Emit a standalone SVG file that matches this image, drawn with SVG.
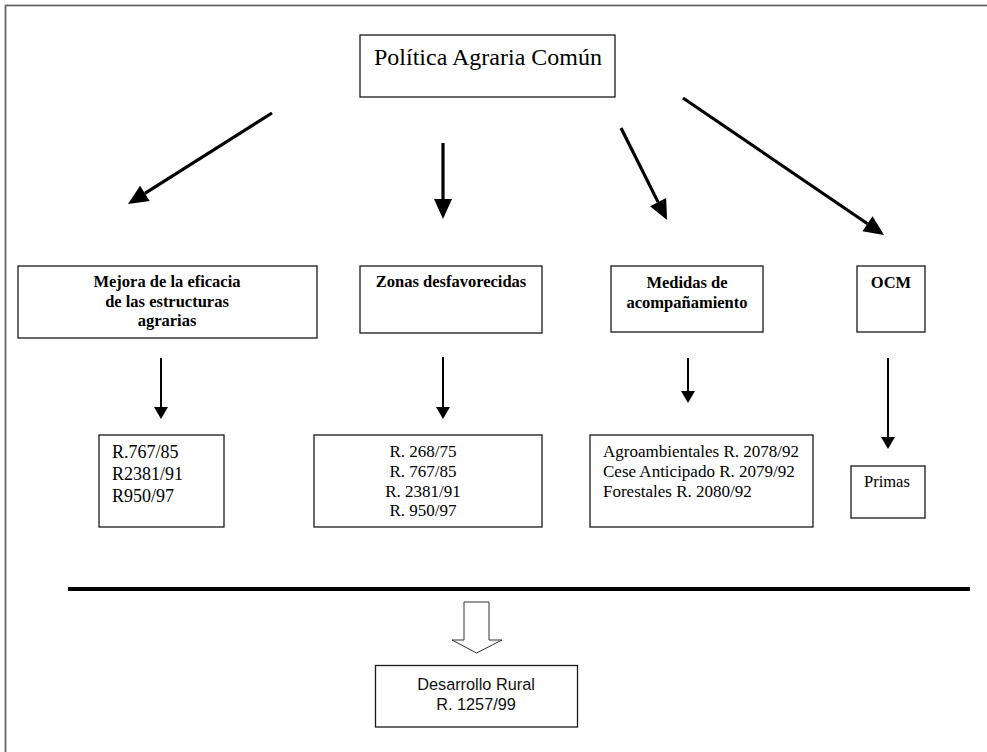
<svg xmlns="http://www.w3.org/2000/svg" width="987" height="752" viewBox="0 0 987 752">
<style>
.box{fill:#fff;stroke:#1a1a1a;stroke-width:1.3}
.serif{font-family:"Liberation Serif","Times New Roman",serif;fill:#000}
.b{font-weight:bold;font-size:16.5px}
.thick{stroke:#000;stroke-width:3.2;fill:none}
.thin{stroke:#000;stroke-width:2;fill:none}
.sans{font-family:"Liberation Sans",Arial,sans-serif;font-size:16.3px;fill:#111}
</style>
<defs>
<marker id="big" markerUnits="userSpaceOnUse" viewBox="0 -10 21 20" refX="0" refY="0" markerWidth="21" markerHeight="20" orient="auto" overflow="visible">
<path d="M0,-9 L20,0 L0,9 z" fill="#000"/>
</marker>
<marker id="small" markerUnits="userSpaceOnUse" viewBox="0 -8 13 16" refX="0" refY="0" markerWidth="13" markerHeight="16" orient="auto" overflow="visible">
<path d="M0,-7 L12,0 L0,7 z" fill="#000"/>
</marker>
</defs>
<rect x="0" y="0" width="987" height="752" fill="#fff"/>
<rect x="5.5" y="5.5" width="1010" height="780" fill="none" stroke="#666" stroke-width="1.8"/>

<g id="pac">
<rect class="box" x="360" y="35" width="255" height="62"/>
<text class="serif" x="374" y="65" font-size="24">Política Agraria Común</text>
</g>

<g id="mejora">
<rect class="box" x="18" y="266" width="299" height="72"/>
<text class="serif b" text-anchor="middle" x="167" y="287">Mejora de la eficacia</text>
<text class="serif b" text-anchor="middle" x="167" y="307">de las estructuras</text>
<text class="serif b" text-anchor="middle" x="167" y="326">agrarias</text>
</g>
<g id="zonas">
<rect class="box" x="360" y="266" width="182" height="67"/>
<text class="serif b" text-anchor="middle" x="451" y="287">Zonas desfavorecidas</text>
</g>
<g id="medidas">
<rect class="box" x="611" y="266" width="152" height="66"/>
<text class="serif b" text-anchor="middle" x="687" y="288">Medidas de</text>
<text class="serif b" text-anchor="middle" x="687" y="308">acompañamiento</text>
</g>
<g id="ocm">
<rect class="box" x="857" y="266" width="68" height="66"/>
<text class="serif b" text-anchor="middle" x="891" y="288">OCM</text>
</g>

<g id="reg-mejora">
<rect class="box" x="99" y="435" width="125" height="92"/>
<text class="serif" font-size="18" x="112" y="458">R.767/85</text>
<text class="serif" font-size="18" x="112" y="480">R2381/91</text>
<text class="serif" font-size="18" x="112" y="502">R950/97</text>
</g>
<g id="reg-zonas">
<rect class="box" x="314" y="435" width="228" height="92"/>
<text class="serif" font-size="17" text-anchor="middle" x="423" y="457">R. 268/75</text>
<text class="serif" font-size="17" text-anchor="middle" x="423" y="477">R. 767/85</text>
<text class="serif" font-size="17" text-anchor="middle" x="423" y="497">R. 2381/91</text>
<text class="serif" font-size="17" text-anchor="middle" x="423" y="516">R. 950/97</text>
</g>
<g id="reg-medidas">
<rect class="box" x="590" y="435" width="223" height="92"/>
<text class="serif" font-size="17" x="603" y="457">Agroambientales R. 2078/92</text>
<text class="serif" font-size="17" x="603" y="477">Cese Anticipado R. 2079/92</text>
<text class="serif" font-size="17" x="603" y="497">Forestales R. 2080/92</text>
</g>
<g id="primas">
<rect class="box" x="851" y="466" width="74" height="52"/>
<text class="serif" font-size="16.5" x="864" y="487">Primas</text>
</g>

<g id="desarrollo">
<rect class="box" x="375.5" y="665.5" width="202" height="61.5"/>
<text class="sans" text-anchor="middle" x="476" y="690">Desarrollo Rural</text>
<text class="sans" text-anchor="middle" x="476" y="710">R. 1257/99</text>
</g>

<g id="connectors">
<line class="thick" x1="272" y1="113" x2="144.9" y2="193.3" marker-end="url(#big)"/>
<line class="thick" x1="443" y1="143" x2="443" y2="199" marker-end="url(#big)"/>
<line class="thick" x1="621" y1="128" x2="658.1" y2="202.1" marker-end="url(#big)"/>
<line class="thick" x1="683" y1="98" x2="867.5" y2="223.7" marker-end="url(#big)"/>
<line class="thin" x1="161" y1="358" x2="161" y2="407" marker-end="url(#small)"/>
<line class="thin" x1="443" y1="357" x2="443" y2="407" marker-end="url(#small)"/>
<line class="thin" x1="688" y1="358" x2="688" y2="391" marker-end="url(#small)"/>
<line class="thin" x1="888" y1="358" x2="888" y2="437" marker-end="url(#small)"/>
<line x1="68" y1="589" x2="970" y2="589" stroke="#000" stroke-width="4"/>
<polygon points="464,602 489,602 489,640 502,640 476.5,653 452,640 464,640" fill="#fff" stroke="#333" stroke-width="1"/>
</g>
</svg>
